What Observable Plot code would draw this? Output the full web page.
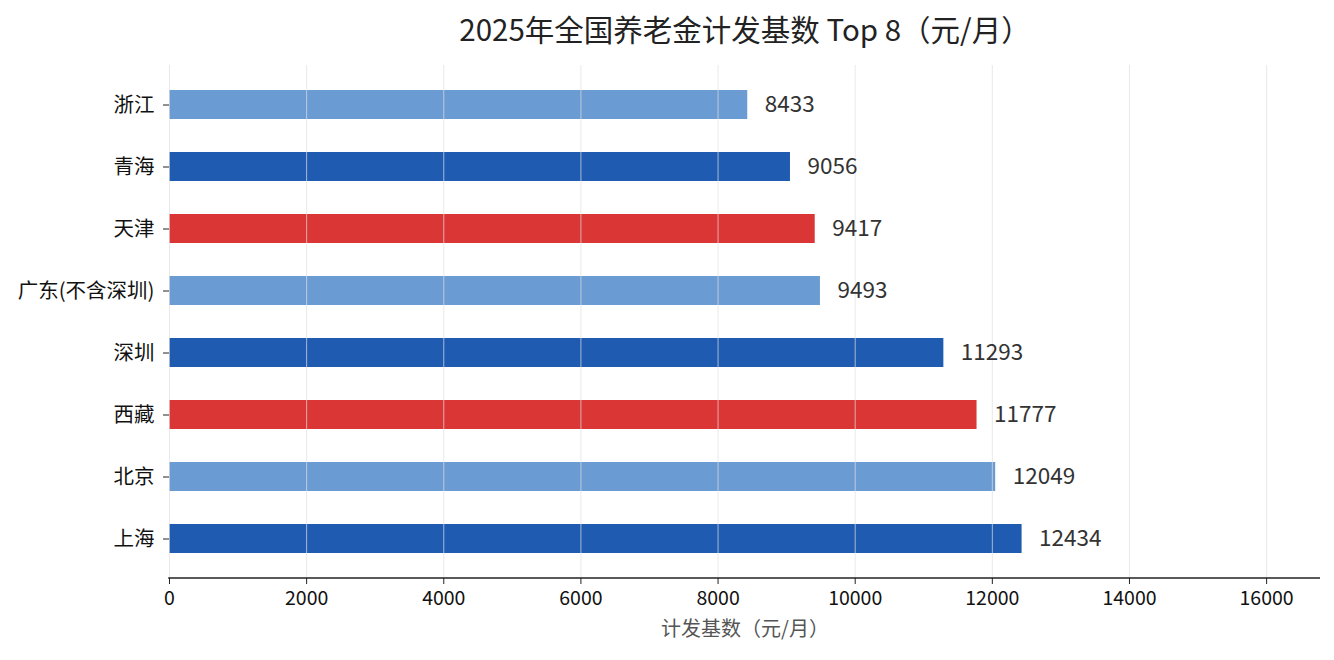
<!DOCTYPE html>
<html>
<head>
<meta charset="utf-8">
<script src="https://cdn.jsdelivr.net/npm/d3@7"></script>
<script src="https://cdn.jsdelivr.net/npm/@observablehq/plot@0.6"></script>
<style>
  html, body { margin: 0; padding: 0; background: #fff; }
  #wrap { width: 1334px; font-family: "Noto Sans CJK SC", "Noto Sans", sans-serif; }
  #title { height: 58px; font-size: 29.5px; color: #222; position: relative; }
  #title span { position: absolute; left: 745px; top: 29px; transform: translate(-50%, -50%); white-space: nowrap; line-height: 1; }
</style>
</head>
<body>
<div id="wrap">
  <div id="title"><span>2025年全国养老金计发基数 Top 8（元/月）</span></div>
  <div id="chart"></div>
</div>
<script>
const regions = ["浙江", "青海", "天津", "广东(不含深圳)", "深圳", "西藏", "北京", "上海"];
const values = [8433, 9056, 9417, 9493, 11293, 11777, 12049, 12434];
const xTicks = [0, 2000, 4000, 6000, 8000, 10000, 12000, 14000, 16000];
const xLabel = "计发基数（元/月）";

const palette = ["#1f5bb0", "#6b9bd3", "#db3636"]; // cycles from bottom bar upward
const data = regions.map((r, i) => ({
  region: r,
  value: values[i],
  color: palette[(regions.length - 1 - i) % 3]
}));

const xMax = d3.max(values) * 1.35;
const font = '"Noto Sans CJK SC", "Noto Sans", sans-serif';
const chart = Plot.plot({
  width: 1334,
  height: 602,
  marginLeft: 169,
  marginRight: 14,
  marginTop: 7,
  marginBottom: 82,
  style: { fontFamily: font, fontSize: "19px", color: "#111", background: "#fff" },
  x: { domain: [0, xMax], ticks: xTicks },
  y: { domain: regions, paddingInner: 0.535, paddingOuter: 0.385 },
  marks: [
    Plot.barX(data, { x: "value", y: "region", fill: "color" }),
    Plot.gridX(xTicks, { stroke: "#e0e0e0", strokeOpacity: 0.7, strokeWidth: 1 }),
    Plot.text(data, { x: "value", y: "region", text: d => String(d.value), dx: 17, textAnchor: "start", fill: "#333", fontSize: 22.5 }),
    Plot.axisX({ ticks: xTicks, tickFormat: d => String(d), tickSize: 6, tickPadding: 7, fontSize: 19.5, label: null, stroke: "#222" }),
    Plot.axisY({ tickSize: 6, tickPadding: 9, fontSize: 20.5, label: null, stroke: "#222" }),
    Plot.text([xLabel], { frameAnchor: "bottom", dy: 57, fill: "#555", fontSize: 20, text: d => d })
  ]
});
// bottom spine drawn from the library's own x scale
const sx = chart.scale("x");
const yBottom = 602 - 82;
d3.select(chart).append("line")
  .attr("x1", sx.apply(0) - 0.8).attr("x2", sx.apply(xMax))
  .attr("y1", yBottom).attr("y2", yBottom)
  .attr("stroke", "#222").attr("stroke-width", 1.6);
document.getElementById("chart").appendChild(chart);
</script>
</body>
</html>
